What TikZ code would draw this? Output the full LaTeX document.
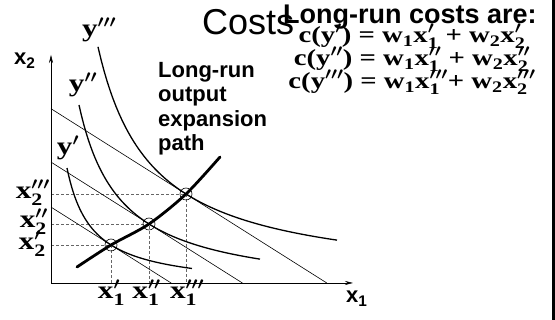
\documentclass[tikz,border=0pt]{standalone}
\usepackage{amsmath}
\usepackage{fontspec}
\setmainfont{Liberation Serif}[FakeStretch=1.25]
\setsansfont{Liberation Sans}
\usetikzlibrary{arrows.meta,positioning}
% keep subscripts under primes close to the letter
\everymath{\fontdimen17\textfont2=0.17\fontdimen6\textfont2}
\tikzset{
  axisline/.style = {-{Stealth[length=8pt,width=4pt]}, line width=0.6pt},
  budget/.style   = {line width=0.6pt},
  isoq/.style     = {line width=1.3pt},
  xpath/.style    = {line width=2.8pt, line cap=round},
  guide/.style    = {dash pattern=on 3pt off 2pt, line width=0.8pt, draw=black!60},
  tang/.style     = {circle, draw, line width=0.6pt, minimum size=12pt, inner sep=0pt},
  qlab/.style     = {font=\fontsize{25}{27}\selectfont\bfseries\boldmath, inner sep=0pt},
  eqn/.style      = {font=\fontsize{23}{25}\selectfont\bfseries\boldmath, inner sep=0pt},
  axlab/.style    = {font=\fontsize{22}{24}\selectfont\sffamily\bfseries, inner sep=0pt},
  note/.style     = {font=\fontsize{22}{24.5}\selectfont\sffamily\bfseries, align=left, inner sep=0pt},
  head/.style     = {font=\fontsize{27}{29}\selectfont\sffamily\bfseries, inner sep=0pt},
  slidetitle/.style = {font=\fontsize{36}{40}\selectfont\sffamily, inner sep=0pt},
}
\begin{document}
\begin{tikzpicture}[x=1pt, y=1pt]
  \useasboundingbox (0,0) rectangle (555,320);

  % axes, budget lines and isoquants (origin of the diagram at (51,37))
  \begin{scope}[shift={(51,37)}]
    \coordinate (o) at (0,0);
    \coordinate (ytop) at (0,228);
    \coordinate (xend) at (302,0);
    \coordinate (t1) at (60,38);
    \coordinate (t2) at (98,59);
    \coordinate (t3) at (135,89);
    \coordinate (e0) at (26,16);
    \coordinate (e1) at (169,126);
    \coordinate (b1a) at (0,75.9);  \coordinate (b1b) at (120.1,0);
    \coordinate (b2a) at (0,120.9); \coordinate (b2b) at (191.4,0);
    \coordinate (b3a) at (0,174.3); \coordinate (b3b) at (275.8,0);

    \draw[guide] (o |- t1) -- (t1) -- (t1 |- o);
    \draw[guide] (o |- t2) -- (t2) -- (t2 |- o);
    \draw[guide] (o |- t3) -- (t3) -- (t3 |- o);

    \draw[axisline] (o) -- (ytop);
    \draw[axisline] (o) -- (xend);

    \draw[budget] (b1a) -- (b1b);
    \draw[budget] (b2a) -- (b2b);
    \draw[budget] (b3a) -- (b3b);

    \draw[isoq] plot[domain=16:141, samples=80] (\x, {3000/(\x+8.9)-5.5});
    \draw[isoq] plot[domain=28:209, samples=80] (\x, {7843/(\x+13.4)-11.4});
    \draw[isoq] plot[domain=47:286, samples=80] (\x, {12654/(\x+6.5)-0.4});

    \draw[xpath] plot[smooth] coordinates {(e0) (t1) (t2) (t3) (e1)};

    \node[tang] (c1) at (t1) {};
    \node[tang] (c2) at (t2) {};
    \node[tang] (c3) at (t3) {};
  \end{scope}

  % labels
  \node[axlab, anchor=base west] (lx2) at (14,255) {x$_{\text{2}}$};
  \node[axlab, anchor=base west] (lx1) at (346,17) {x$_{\text{1}}$};

  \node[qlab, anchor=base] (ly3) at (99,283) {$\text{y}'''$};
  \node[qlab, anchor=base] (ly2) at (83,228) {$\text{y}''$};
  \node[qlab, anchor=base] (ly1) at (68,165) {$\text{y}'$};

  \node[qlab, anchor=base] (lx11) at (111.5,21) {$\text{x}'_{\text{1}}$};
  \node[qlab, anchor=base] (lx12) at (146.5,21) {$\text{x}''_{\text{1}}$};
  \node[qlab, anchor=base] (lx13) at (187,21) {$\text{x}'''_{\text{1}}$};

  \node[qlab, anchor=base east] (lx23) at (50,121) {$\text{x}'''_{\text{2}}$};
  \node[qlab, anchor=base east] (lx22) at (48,92) {$\text{x}''_{\text{2}}$};
  \node[qlab, anchor=base east] (lx21) at (46,70) {$\text{x}'_{\text{2}}$};

  \node[note, anchor=north west] (lrpath) at (158,258) {Long-run\\output\\expansion\\path};

  \node[slidetitle, anchor=base west] (costs) at (202,285) {Costs};
  \node[head, anchor=base west] (lrc) at (283,296) {Long-run costs are:};

  \node[eqn, anchor=base] (eq1) at (412,277) {c($\text{y}'$) = w$_{\text{1}}$$\text{x}'_{\text{1}}$ + w$_{\text{2}}$$\text{x}'_{\text{2}}$};
  \node[eqn, anchor=base] (eq2) at (412,254) {c($\text{y}''$) = w$_{\text{1}}$$\text{x}''_{\text{1}}$ + w$_{\text{2}}$$\text{x}''_{\text{2}}$};
  \node[eqn, anchor=base] (eq3) at (412,231) {c($\text{y}'''$) = w$_{\text{1}}$$\text{x}'''_{\text{1}}$+ w$_{\text{2}}$$\text{x}'''_{\text{2}}$};

  % slide edge
  \coordinate (fr0) at (553.6,0);
  \coordinate (fr1) at (553.6,320);
  \draw[line width=2.8pt] (fr0) -- (fr1);
\end{tikzpicture}
\end{document}
